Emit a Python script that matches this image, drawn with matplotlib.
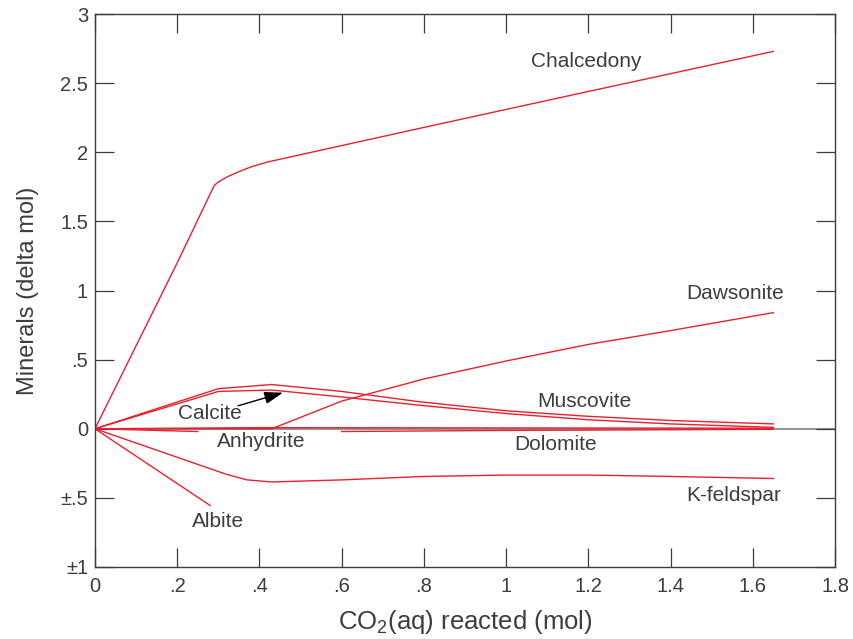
import matplotlib
matplotlib.use("Agg")
import matplotlib.pyplot as plt

plt.rcParams['font.family'] = ['Liberation Sans', 'DejaVu Sans']
plt.rcParams['mathtext.fontset'] = 'custom'
plt.rcParams['mathtext.rm'] = 'Liberation Sans'
plt.rcParams['mathtext.it'] = 'Liberation Sans'

# data (CO2 reacted, delta mol)
chalcedony_x = [0, 0.1, 0.2, 0.29, 0.30, 0.32, 0.35, 0.38, 0.42, 0.8, 1.2, 1.65]
chalcedony_y = [0, 0.6, 1.2, 1.76, 1.785, 1.82, 1.86, 1.895, 1.93, 2.18, 2.44, 2.73]

dawsonite_x = [0, 0.43, 0.6, 0.8, 1.0, 1.2, 1.4, 1.65]
dawsonite_y = [0, 0.0, 0.2, 0.36, 0.49, 0.61, 0.71, 0.84]

muscovite_x = [0, 0.3, 0.43, 0.6, 0.79, 1.0, 1.2, 1.4, 1.65]
muscovite_y = [0, 0.29, 0.32, 0.27, 0.195, 0.13, 0.09, 0.06, 0.035]

calcite_x = [0, 0.3, 0.43, 0.6, 0.79, 1.0, 1.2, 1.4, 1.65]
calcite_y = [0, 0.27, 0.28, 0.23, 0.17, 0.11, 0.065, 0.035, 0.01]

anhydrite_x = [0, 0.4, 1.0, 1.65]
anhydrite_y = [0, 0.008, 0.006, 0.004]
anhydrite2_x = [0, 0.25]
anhydrite2_y = [0, -0.02]

dolomite_x = [0.6, 1.0, 1.65]
dolomite_y = [-0.02, -0.012, -0.004]

kfeldspar_x = [0, 0.16, 0.32, 0.37, 0.43, 0.6, 0.8, 1.0, 1.2, 1.4, 1.65]
kfeldspar_y = [0, -0.165, -0.33, -0.37, -0.385, -0.37, -0.345, -0.335, -0.335, -0.345, -0.36]

albite_x = [0, 0.28]
albite_y = [0, -0.555]

x_ticks = [0, 0.2, 0.4, 0.6, 0.8, 1.0, 1.2, 1.4, 1.6, 1.8]
x_labels = ['0', '.2', '.4', '.6', '.8', '1', '1.2', '1.4', '1.6', '1.8']
y_ticks = [-1, -0.5, 0, 0.5, 1, 1.5, 2, 2.5, 3]
y_labels = ['±1', '±.5', '0', '.5', '1', '1.5', '2', '2.5', '3']

labels = {
    'Chalcedony': (1.194, 2.66),
    'Dawsonite': (1.557, 0.98),
    'Muscovite': (1.19, 0.195),
    'Calcite': (0.28, 0.11),
    'Anhydrite': (0.404, -0.094),
    'Dolomite': (1.121, -0.116),
    'K-feldspar': (1.554, -0.485),
    'Albite': (0.30, -0.67),
}

red = '#e8202c'
dark = '#3d3d3d'

fig = plt.figure(figsize=(8.54, 6.39), dpi=100)
ax = fig.add_axes([0.1112, 0.1127, 0.8666, 0.8653])

ax.axhline(0, color='#808080', lw=1.2, zorder=1)

series = [
    (chalcedony_x, chalcedony_y), (dawsonite_x, dawsonite_y),
    (muscovite_x, muscovite_y), (calcite_x, calcite_y),
    (anhydrite_x, anhydrite_y), (anhydrite2_x, anhydrite2_y),
    (dolomite_x, dolomite_y), (kfeldspar_x, kfeldspar_y),
    (albite_x, albite_y),
]
for xs, ys in series:
    ax.plot(xs, ys, color=red, lw=1.0, zorder=2)

for name, (lx, ly) in labels.items():
    ax.text(lx, ly, name, ha='center', va='center', fontsize=15, color=dark)

# arrow pointing at the calcite curve
ax.annotate('', xy=(0.457, 0.261), xytext=(0.348, 0.166),
            arrowprops=dict(arrowstyle='-|>,head_length=0.75,head_width=0.25',
                            color='black', lw=1.0, mutation_scale=15,
                            shrinkA=0, shrinkB=0))

ax.set_xlim(0, 1.8)
ax.set_ylim(-1, 3)
ax.set_xticks(x_ticks)
ax.set_xticklabels(x_labels)
ax.set_yticks(y_ticks)
ax.set_yticklabels(y_labels)
ax.tick_params(direction='in', length=13.5, width=0.9, color=dark,
               labelcolor=dark, labelsize=14.5, top=True, right=True)
ax.tick_params(axis='x', pad=7)
ax.tick_params(axis='y', pad=5)
for sp in ax.spines.values():
    sp.set_color(dark)
    sp.set_linewidth(1.0)

ax.set_xlabel('CO$_2$(aq) reacted (mol)', fontsize=18.5, color=dark, labelpad=9)
ax.set_ylabel('Minerals (delta mol)', fontsize=17, color=dark, labelpad=15)

fig.savefig('out.png', dpi=100)
